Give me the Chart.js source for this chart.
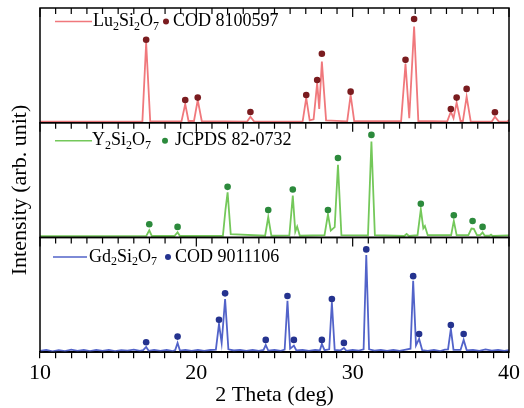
<!DOCTYPE html>
<html><head><meta charset="utf-8">
<script src="https://cdn.jsdelivr.net/npm/chart.js@4/dist/chart.umd.min.js"></script>
<style>html,body{margin:0;padding:0;background:#fff;}#wrap{width:524px;height:408px;position:relative;}</style>
</head><body><div id="wrap"><canvas id="c" width="524" height="408"></canvas></div>
<script>
// ---------- DATA ----------
const xTicksMajor = [10, 20, 30, 40];
const yTitle = 'Intensity (arb. unit)';
const xTitle = '2 Theta (deg)';

const phaseNames = ['Lu2Si2O7', 'Y2Si2O7', 'Gd2Si2O7'];
const refNames = ['COD 8100597', 'JCPDS 82-0732', 'COD 9011106'];

// Lu2Si2O7 pattern
const luTheta = [10, 16.55, 16.79, 17.05, 19.05, 19.29, 19.5, 19.85, 20.09, 20.35, 23.25, 23.46, 23.7, 26.8, 27.03, 27.25, 27.5, 27.73, 27.86, 28.03, 28.3, 29.65, 29.87, 30.1, 33.1, 33.38, 33.62, 33.93, 34.2, 36.05, 36.28, 36.45, 36.65, 36.9, 37.05, 37.29, 37.55, 38.9, 39.1, 39.35, 39.9, 40];
const luInt   = [1.0, 1.2, 69.7, 1.3, 1.2, 16.3, 1.5, 1.5, 19.8, 1.3, 1.0, 5.2, 1.0, 1.2, 21.6, 2.0, 3.0, 34.7, 12.0, 53.3, 2.0, 1.2, 24.2, 1.3, 1.5, 51.3, 4.0, 83.9, 1.5, 1.2, 9.6, 4.0, 17.5, 1.5, 1.5, 22.7, 1.2, 1.0, 5.2, 1.0, 1.0, 2.5];
const luRefTheta = [16.79, 19.29, 20.09, 23.46, 27.03, 27.73, 28.03, 29.87, 33.38, 33.93, 36.28, 36.65, 37.29, 39.1];
const luRefInt   = [72.3, 19.8, 21.9, 9.4, 24.2, 37.3, 60.1, 27.1, 54.8, 90.4, 12.0, 21.9, 29.5, 9.1];

// Y2Si2O7 pattern
const yTheta = [10, 16.8, 16.99, 17.15, 18.6, 18.8, 18.95, 21.7, 21.87, 22.0, 22.2, 24.4, 24.6, 24.8, 25.95, 26.17, 26.33, 26.45, 26.62, 28.2, 28.42, 28.6, 28.85, 29.06, 29.28, 30.98, 31.2, 31.42, 33.3, 33.45, 33.6, 34.15, 34.36, 34.52, 34.62, 34.8, 36.3, 36.47, 36.65, 37.4, 37.6, 37.75, 37.95, 38.15, 38.31, 38.45, 38.75, 38.85, 38.95, 40];
const yInt   = [1.2, 1.3, 6.3, 1.3, 1.3, 4.6, 1.3, 1.5, 25, 39.4, 3.0, 1.5, 17.8, 1.5, 1.8, 36.6, 5, 9.5, 1.5, 2, 20.2, 6, 9, 63.4, 2, 1.8, 83.6, 2, 1.3, 3, 1.3, 2, 24.5, 8, 10, 2, 2, 14.4, 2, 2, 7.8, 7.5, 2, 2, 4.3, 1.5, 1.5, 2.5, 1.3, 1.8];
const yRefTheta = [16.99, 18.8, 22.0, 24.6, 26.17, 28.42, 29.06, 31.2, 34.36, 36.47, 37.67, 38.31];
const yRefInt   = [11.5, 9.2, 44.1, 23.9, 41.8, 23.9, 69.2, 89.4, 29.4, 19.3, 14.4, 9.2];

// Gd2Si2O7 pattern
const gdTheta = [10, 10.4, 10.8, 11.2, 11.6, 12.0, 12.4, 12.8, 13.2, 13.6, 14.0, 14.4, 14.8, 15.2, 15.6, 16.0, 16.4, 16.6, 16.79, 16.95, 17.3, 17.7, 18.1, 18.5, 18.65, 18.8, 18.95, 19.3, 19.7, 20.1, 20.5, 20.9, 21.25, 21.45, 21.62, 21.84, 22.05, 22.4, 22.8, 23.2, 23.6, 24.0, 24.3, 24.44, 24.6, 25.0, 25.4, 25.65, 25.83, 26.0, 26.24, 26.4, 26.8, 27.2, 27.6, 27.9, 28.03, 28.2, 28.5, 28.67, 28.85, 29.2, 29.44, 29.6, 30.0, 30.4, 30.7, 30.87, 31.05, 31.4, 31.8, 32.2, 32.6, 33.0, 33.4, 33.7, 33.87, 34.05, 34.25, 34.45, 34.8, 35.2, 35.6, 35.9, 36.1, 36.28, 36.45, 36.9, 37.1, 37.3, 37.7, 38.1, 38.5, 38.9, 39.3, 39.7, 40];
const gdInt   = [1.2, 2.0, 0.8, 1.8, 1.0, 2.2, 1.1, 1.9, 0.9, 2.0, 1.2, 2.1, 1.0, 1.8, 1.3, 2.2, 1.1, 1.8, 4.6, 1.2, 2.0, 1.1, 1.9, 1.0, 1.8, 8.1, 1.4, 2.0, 1.1, 2.1, 1.2, 1.9, 2.2, 24.6, 8, 46.3, 2.5, 1.5, 2.0, 1.1, 1.9, 1.2, 2.0, 6.3, 1.4, 2.0, 1.2, 2.2, 44.9, 3, 5.7, 1.5, 1.9, 1.1, 2.0, 1.5, 7.2, 1.8, 2.5, 43.5, 2.0, 1.5, 3.7, 1.2, 2.0, 1.4, 2.5, 84.6, 2.5, 1.3, 2.1, 1.2, 2.0, 1.1, 2.2, 3, 62.3, 6, 11.6, 1.8, 1.2, 2.1, 1.0, 2.2, 2.5, 20.3, 2.0, 2.0, 10.7, 1.5, 2.0, 1.2, 2.4, 1.3, 2.0, 1.1, 1.8];
const gdRefTheta = [16.79, 18.8, 21.45, 21.84, 24.44, 25.83, 26.24, 28.03, 28.67, 29.44, 30.87, 33.87, 34.25, 36.28, 37.1];
const gdRefInt   = [8.7, 13.6, 28.3, 51.3, 10.7, 49.0, 10.7, 10.7, 46.3, 8.1, 89.6, 66.3, 15.9, 23.7, 15.9];

// ---------- STYLE ----------
const FONT = "'Liberation Serif', 'Times New Roman', serif";
const lineColors = ['#f0787c', '#74c85a', '#5263c9'];
const dotColors  = ['#7a1c1f', '#2c8a3c', '#25338f'];
const axisIds = ['yLu', 'yY', 'yGd'];
const legendPos = [
  {dy: 13.5, x0: 55, x1: 92, tx: 93, dot: 166, rx: 173},
  {dy: 18,   x0: 55, x1: 92, tx: 92, dot: 165, rx: 175},
  {dy: 19.5, x0: 53, x1: 87, tx: 89, dot: 168, rx: 175}
];

const pts = (xs, ys) => xs.map((x, i) => ({x, y: ys[i]}));
const series = [[luTheta, luInt, luRefTheta, luRefInt], [yTheta, yInt, yRefTheta, yRefInt], [gdTheta, gdInt, gdRefTheta, gdRefInt]];

const datasets = [];
series.forEach((s, i) => {
  datasets.push({type: 'line', data: pts(s[0], s[1]), borderColor: lineColors[i], borderWidth: 1.8, pointRadius: 0, tension: 0, yAxisID: axisIds[i], order: 2});
  datasets.push({type: 'scatter', data: pts(s[2], s[3]), backgroundColor: dotColors[i], borderWidth: 0, pointRadius: 3.3, yAxisID: axisIds[i], order: 1});
});

function drawFormula(ctx, text, x, y) {
  let cx = x;
  const parts = text.match(/[A-Za-z]+|\d+/g);
  parts.forEach(p => {
    if (/\d/.test(p)) {
      ctx.font = "12px " + FONT;
      ctx.fillText(p, cx, y + 5);
    } else {
      ctx.font = "18px " + FONT;
      ctx.fillText(p, cx, y);
    }
    cx += ctx.measureText(p).width;
  });
}

const framePlugin = {
  id: 'frame',
  afterDraw(chart) {
    const ctx = chart.ctx, ca = chart.chartArea, xs = chart.scales.x;
    ctx.save();
    ctx.strokeStyle = '#000';
    ctx.lineWidth = 1.5;
    axisIds.forEach((id, i) => {
      const sc = chart.scales[id];
      ctx.strokeRect(ca.left, sc.top, ca.right - ca.left, sc.bottom - sc.top);
      // inward ticks on top edge
      ctx.lineWidth = 1.2;
      for (let v = 10; v <= 40; v++) {
        const px = xs.getPixelForValue(v);
        const len = xTicksMajor.includes(v) ? 9 : 6;
        ctx.beginPath(); ctx.moveTo(px, sc.top); ctx.lineTo(px, sc.top + len); ctx.stroke();
      }
      ctx.lineWidth = 1.5;
      // legend
      const lp = legendPos[i];
      const ly = sc.top + lp.dy;
      ctx.strokeStyle = lineColors[i]; ctx.lineWidth = 1.6;
      ctx.beginPath(); ctx.moveTo(lp.x0, ly); ctx.lineTo(lp.x1, ly); ctx.stroke();
      ctx.fillStyle = '#000'; ctx.textBaseline = 'middle'; ctx.textAlign = 'left';
      drawFormula(ctx, phaseNames[i], lp.tx, ly);
      ctx.fillStyle = dotColors[i];
      ctx.beginPath(); ctx.arc(lp.dot, ly, 3, 0, Math.PI * 2); ctx.fill();
      ctx.fillStyle = '#000'; ctx.font = "18px " + FONT;
      ctx.fillText(refNames[i], lp.rx, ly);
      ctx.strokeStyle = '#000'; ctx.lineWidth = 1.5;
    });
    // y title
    ctx.translate(20, 190);
    ctx.rotate(-Math.PI / 2);
    ctx.fillStyle = '#000'; ctx.font = "22px " + FONT; ctx.textAlign = 'center'; ctx.textBaseline = 'middle';
    ctx.fillText(yTitle, 0, 0);
    ctx.restore();
  }
};

const yAxis = () => ({type: 'linear', position: 'left', stack: 'xrd', stackWeight: 1, min: 0, max: 100,
  ticks: {display: false}, grid: {display: false, drawTicks: false}, border: {display: false}});

// stacked axes are laid out bottom-up in definition order
new Chart(document.getElementById('c'), {
  data: {datasets},
  options: {
    responsive: false, animation: false, devicePixelRatio: 1,
    layout: {padding: {left: 40, right: 15, top: 8, bottom: 0}},
    plugins: {legend: {display: false}, tooltip: {enabled: false}},
    scales: {
      x: {type: 'linear', position: 'bottom', min: 10, max: 40,
        ticks: {stepSize: 1, autoSkip: false, maxTicksLimit: 40, maxRotation: 0, padding: 2, color: '#000',
          font: {family: FONT, size: 22}, callback: v => (xTicksMajor.includes(v) ? String(v) : '')},
        grid: {drawOnChartArea: false, drawTicks: true, tickLength: 6, color: '#000', lineWidth: 1.2},
        border: {display: true, color: '#000', width: 1.5},
        title: {display: true, text: xTitle, color: '#000', font: {family: FONT, size: 22}, padding: {top: -7, bottom: 0}}},
      yGd: yAxis(), yY: yAxis(), yLu: yAxis()
    }
  },
  plugins: [framePlugin]
});
</script>
</body></html>
